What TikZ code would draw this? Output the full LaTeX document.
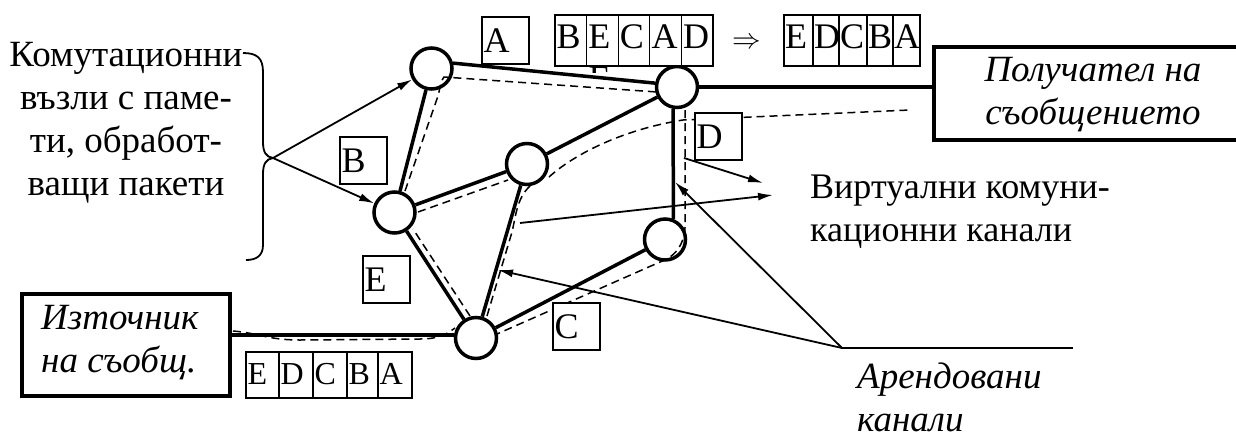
\documentclass[tikz,border=0pt]{standalone}
\usepackage{fontspec}
\setmainfont{Liberation Serif}
\usetikzlibrary{arrows.meta,calc}
\begin{document}
\begin{tikzpicture}[x=1pt,y=-1pt,
  hub/.style={circle,draw,fill=white,line width=3.5pt,minimum size=41pt,inner sep=0pt},
  trunk/.style={line width=3.5pt},
  vchan/.style={line width=1.5pt,dash pattern=on 8pt off 5pt},
  pointer/.style={line width=1.8pt,-{Latex[length=15pt,width=8pt]}},
  guide/.style={line width=1.8pt},
  endbox/.style={draw,line width=3.8pt,fill=white,inner sep=0pt},
  cellline/.style={draw,line width=1.3pt,fill=white},
  pktl/.style={anchor=base west,inner sep=0pt,font=\fontsize{36}{36}\selectfont},
  pkts/.style={anchor=base west,inner sep=0pt,font=\fontsize{32}{32}\selectfont},
  body/.style={inner sep=0pt,font=\fontsize{37}{43}\selectfont},
  ital/.style={inner sep=0pt,font=\fontsize{37}{43}\selectfont\itshape},
]
\useasboundingbox (0,0) rectangle (1236,437);

% end points: source and receiver
\node[endbox,minimum width=208pt,minimum height=102pt] (src) at (126,345) {};
\node[ital,anchor=base west,align=left] (srctxt) at (41,372) {Източник\\на съобщ.};
\node[endbox,minimum width=318pt,minimum height=93pt] (recv) at (1093,93.5) {};
\node[ital,anchor=base,align=center] (recvtxt) at (1093,124) {Получател на\\съобщението};

% switching nodes
\node[hub] (n1) at (431.5,68.5) {};
\node[hub] (n2) at (677,87) {};
\node[hub] (n3) at (527,164) {};
\node[hub] (n4) at (394.5,212.5) {};
\node[hub] (n5) at (665,239.5) {};
\node[hub] (n6) at (476,338) {};

% leased trunk lines
\coordinate (n6in) at ($(n6.west)+(0,-3)$);
\draw[trunk] (n1.14) -- (n2.170);
\draw[trunk] (n1) -- (n4);
\draw[trunk] (n4) -- (n3);
\draw[trunk] (n3) -- (n2);
\draw[trunk] (n4) -- (n6);
\draw[trunk] (n3) -- (n6);
\draw[trunk] (n6) -- (n5);
\draw[trunk] (n2.-100) -- (n5.68);
\draw[trunk] (n2.east) -- (n2.east -| recv.west);
\draw[trunk] (n6in -| src.east) -- (n6in);

% virtual channels
\draw[vchan] (233,331) .. controls (258,333) and (268,340) .. (300,340)
  -- (420,339) .. controls (440,339) and (448,333) .. (455,328);
\draw[vchan] (470,316) -- (413,229);
\draw[vchan] (405,191) -- (438,96) .. controls (440,88) and (441,80) .. (444,77) -- (657,92);
\draw[vchan] (418,212) -- (508,180);
\draw[vchan] (549,177) .. controls (572,156) and (620,130) .. (683,120) -- (910,110);
\draw[vchan] (487,316) -- (512,232) .. controls (516,215) and (517,198) .. (530,186);
\draw[vchan] (685,110) -- (685,222) .. controls (686,240) and (678,256) .. (660,262) -- (497,334);

% single packets on their way
\foreach \nm/\x/\y/\l in {pA/482/17/A, pB/340/137/B, pE/363/256/E, pC/553/303/C, pD/695/113/D} {
  \draw[cellline] (\x,\y) rectangle ++(47,47);
  \node[pktl] (\nm) at (\x+1.5,\y+35) {\l};
}

% packets arriving out of order and after reordering
\foreach \l [count=\i from 0] in {B,E,C,A,D} {
  \draw[cellline] (555+31.6*\i,15) rectangle ++(31.6,51);
  \node[pktl] at (556.5+31.6*\i,48) {\l};
}
\begin{scope}
  \clip (587,66.5) rectangle (619,72);
  \node[pktl] at (588.5,90) {E};
\end{scope}
\node[inner sep=0pt,scale=1.15,font=\fontsize{24.88}{24.88}\selectfont] (reorder) at (747,43) {$\Rightarrow$};
\foreach \l/\a/\b in {E/784/813, D/813/839, C/839/867, B/867/893, A/893/920} {
  \draw[cellline] (\a,15) rectangle (\b,66);
  \node[pktl] at (\a+1,48) {\l};
}

% message split into packets at the source
\foreach \l/\a/\b in {E/246/279, D/279/313, C/313/347, B/347/378, A/378/412} {
  \draw[cellline] (\a,352) rectangle (\b,398);
  \node[pkts] at (\a+1.5,384) {\l};
}

% brace with the switching-node label
\node[body,anchor=base,align=center] (hubtxt) at (126,195) {Комутационни\\възли с паме-\\ти, обработ-\\ващи пакети};
\draw[guide] (243,53) .. controls (257,53) and (263,58) .. (263,72) -- (263,142)
  .. controls (263,152) and (266,157) .. (273,158) coordinate (tip)
  .. controls (266,159) and (263,164) .. (263,174) -- (263,245)
  .. controls (263,256) and (256,260) .. (246,260);
\draw[pointer] (tip) -- (n1);
\draw[pointer] (tip) -- (n4);

% virtual channel label
\node[body,anchor=base west,align=left,font=\fontsize{36}{43}\selectfont] (vctxt) at (810,241) {Виртуални комуни-\\кационни канали};
\coordinate (vcA) at (684,158);
\coordinate (vcB) at (520,223);
\coordinate (vcAend) at (763,183);
\coordinate (vcBend) at (773,195);
\draw[pointer] (vcA) -- (vcAend);
\draw[pointer] (vcB) -- (vcBend);

% leased channel label
\coordinate (lease) at (842,348);
\coordinate (leaseEnd) at (1073,348);
\coordinate (leaseA) at (675,182);
\coordinate (leaseB) at (498,270);
\draw[guide] (lease) -- (leaseEnd);
\draw[pointer] (lease) -- (leaseA);
\draw[pointer] (lease) -- (leaseB);
\node[ital,anchor=base west,align=left] (leasetxt) at (857,431) {Арендовани\\канали};
\end{tikzpicture}
\end{document}
